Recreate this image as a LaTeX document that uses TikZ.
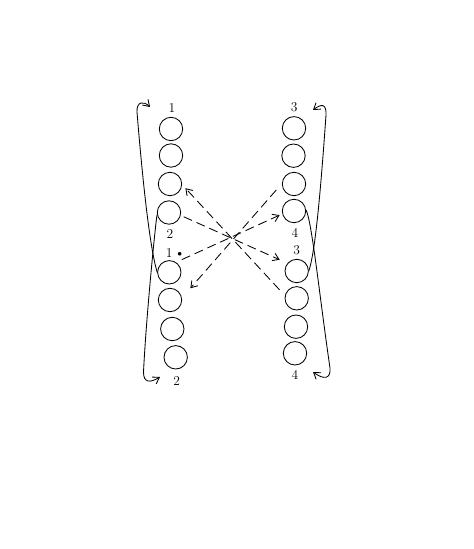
\documentclass[tikz,border=0pt]{standalone}
\usetikzlibrary{arrows.meta}
\begin{document}
\begin{tikzpicture}[x=1pt,y=-1pt,
  ring/.style={circle,draw,line width=0.85pt,minimum size=23.4pt,inner sep=0pt},
  lab/.style={font=\fontsize{13.5}{15}\selectfont,inner sep=0pt},
  link/.style={line width=0.85pt},
  cross/.style={line width=0.85pt,dash pattern=on 9pt off 5pt},
  tip/.style={-{Straight Barb[length=6pt,width=8pt]}}
]
\useasboundingbox (0,0) rectangle (474,549);
% upper left column
\node[ring] (UL1) at (171,129) {};
\node[ring] (UL2) at (171,155.5) {};
\node[ring] (UL3) at (170,184) {};
\node[ring] (UL4) at (169,212.5) {};
% lower left column
\node[ring] (LL1) at (169.3,272.3) {};
\node[ring] (LL2) at (170,300) {};
\node[ring] (LL3) at (172.3,329) {};
\node[ring] (LL4) at (175.7,357.3) {};
% upper right column
\node[ring] (UR1) at (294,128.3) {};
\node[ring] (UR2) at (293.5,155.7) {};
\node[ring] (UR3) at (294,184) {};
\node[ring] (UR4) at (294,211) {};
% lower right column
\node[ring] (LR1) at (296.7,271) {};
\node[ring] (LR2) at (296.7,298.3) {};
\node[ring] (LR3) at (296,326.7) {};
\node[ring] (LR4) at (295,353.3) {};
% labels
\node[lab] (tUL1) at (172,108) {1};
\node[lab] (tUL2) at (170,234) {2};
\node[lab,anchor=west] (tLL1) at (165.6,253) {1\,\textbullet};
\node[lab] (tLL2) at (176.7,381) {2};
\node[lab] (tUR3) at (294.3,107) {3};
\node[lab] (tUR4) at (295,233) {4};
\node[lab] (tLR3) at (296.7,250) {3};
\node[lab] (tLR4) at (295,375) {4};
% arrow tips of the side loops
\coordinate (a1) at (150,107);
\coordinate (a2) at (160,377);
\coordinate (a3) at (313,372);
\coordinate (a4) at (313,110);
% dashed crossing connectors
\draw[cross,tip,shorten <=3.2pt,shorten >=8.5pt] (UL4.-14) -- (LR1.140);
\draw[cross,tip,shorten <=6.4pt,shorten >=2.9pt] (LL1.56) -- (UR4.194);
\draw[cross,tip,shorten <=8.5pt,shorten >=12.8pt] (UR3.178) -- (LL2.10);
\draw[cross,tip,shorten <=7.8pt,shorten >=4.9pt] (LR2.167) -- (UL3.-3);
% side loops
\draw[link,tip] (LL1.west) .. controls (152,255) and (145,210) .. (137,112)
  .. controls (136.5,101) and (144,101) .. (a1);
\draw[link,tip] (UL4.190) .. controls (155,228) and (146,320) .. (143.5,372)
  .. controls (143.5,383) and (150,383) .. (a2);
\draw[link,tip] (UR4.5) .. controls (312,222) and (320,300) .. (330,368)
  .. controls (331,379) and (324,380) .. (a3);
\draw[link,tip] (LR1.east) .. controls (314,255) and (319,215) .. (326,115)
  .. controls (326.5,103) and (321,104) .. (a4);
\end{tikzpicture}
\end{document}
